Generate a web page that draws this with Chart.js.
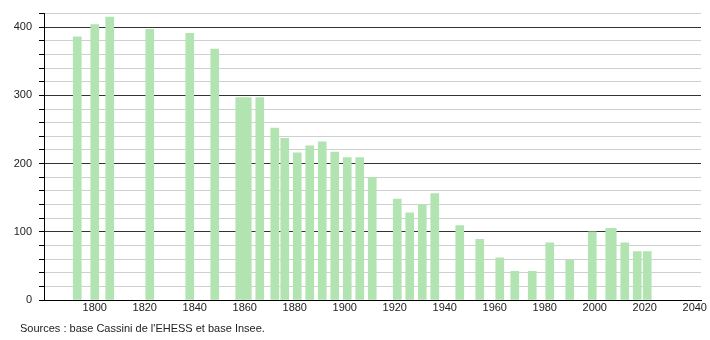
<!DOCTYPE html>
<html>
<head>
<meta charset="utf-8">
<script src="https://cdn.jsdelivr.net/npm/chart.js@4/dist/chart.umd.min.js"></script>
<style>
html,body{margin:0;padding:0;background:#fff;}
#wrap{width:710px;height:340px;position:relative;}
</style>
</head>
<body>
<div id="wrap"><canvas id="c" width="710" height="340"></canvas></div>
<script>
const years = [1793,1800,1806,1822,1838,1848,1858,1861,1866,1872,1876,1881,1886,1891,1896,1901,1906,1911,1921,1926,1931,1936,1946,1954,1962,1968,1975,1982,1990,1999,2006,2007,2012,2017,2021];
const population = [386,404,415,397,391,368,297,297,297,252,237,216,226,232,217,209,209,180,148,128,140,156,109,89,62,42,42,84,58,100,105,105,84,71,71];
const xTickYears = [1800,1820,1840,1860,1880,1900,1920,1940,1960,1980,2000,2020,2040];
const yTickLabels = [0,100,200,300,400];
const sourceText = "Sources : base Cassini de l'EHESS et base Insee.";

const points = years.map((y,i)=>({x:y, y:population[i]}));

const sourcePlugin = {
  id:'sourceText',
  afterDraw(chart){
    const ctx = chart.ctx;
    ctx.save();
    ctx.font = '11px "Liberation Sans", Arial, sans-serif';
    ctx.fillStyle = '#222';
    ctx.textBaseline = 'middle';
    ctx.textAlign = 'left';
    ctx.fillText(sourceText, 20, 329);
    ctx.restore();
  }
};

new Chart(document.getElementById('c'), {
  type:'bar',
  data:{datasets:[{
    data:points,
    backgroundColor:'#b1e4b1',
    borderWidth:0,
    barThickness:8
  }]},
  options:{
    responsive:false,
    animation:false,
    events:[],
    layout:{padding:{top:10,right:9,left:0,bottom:0}},
    plugins:{legend:{display:false},tooltip:{enabled:false},title:{display:false}},
    scales:{
      x:{
        type:'linear',
        min:1779.7,
        max:2042.5,
        offset:false,
        afterBuildTicks(scale){
          scale.ticks = xTickYears.map(v=>({value:v}));
        },
        afterFit(scale){ scale.height = 40; },
        grid:{display:true, drawOnChartArea:false, drawTicks:false},
        border:{display:true,color:'#000',width:1},
        ticks:{
          autoSkip:false, maxRotation:0, padding:1,
          color:'#222',
          font:{family:'"Liberation Sans", Arial, sans-serif', size:11},
          callback:v=>String(v)
        }
      },
      y:{
        min:0,max:420,
        afterBuildTicks(scale){
          const t=[];
          for(let v=0; v<=420; v+=20) t.push({value:v});
          scale.ticks=t;
        },
        afterFit(scale){ scale.width = 44; },
        grid:{
          color:ctx=> (ctx.tick && ctx.tick.value%100===0 && ctx.tick.value!==0) ? '#333' : (ctx.tick && ctx.tick.value===0 ? '#000' : '#cfcfcf'),
          tickColor:'#000',
          tickLength:5,
          lineWidth:1
        },
        border:{display:true,color:'#000',width:1},
        ticks:{
          autoSkip:false,
          padding:7,
          color:'#222',
          font:{family:'"Liberation Sans", Arial, sans-serif', size:11},
          callback:v=> yTickLabels.includes(v) ? String(v) : ''
        }
      }
    }
  },
  plugins:[sourcePlugin]
});
</script>
</body>
</html>
